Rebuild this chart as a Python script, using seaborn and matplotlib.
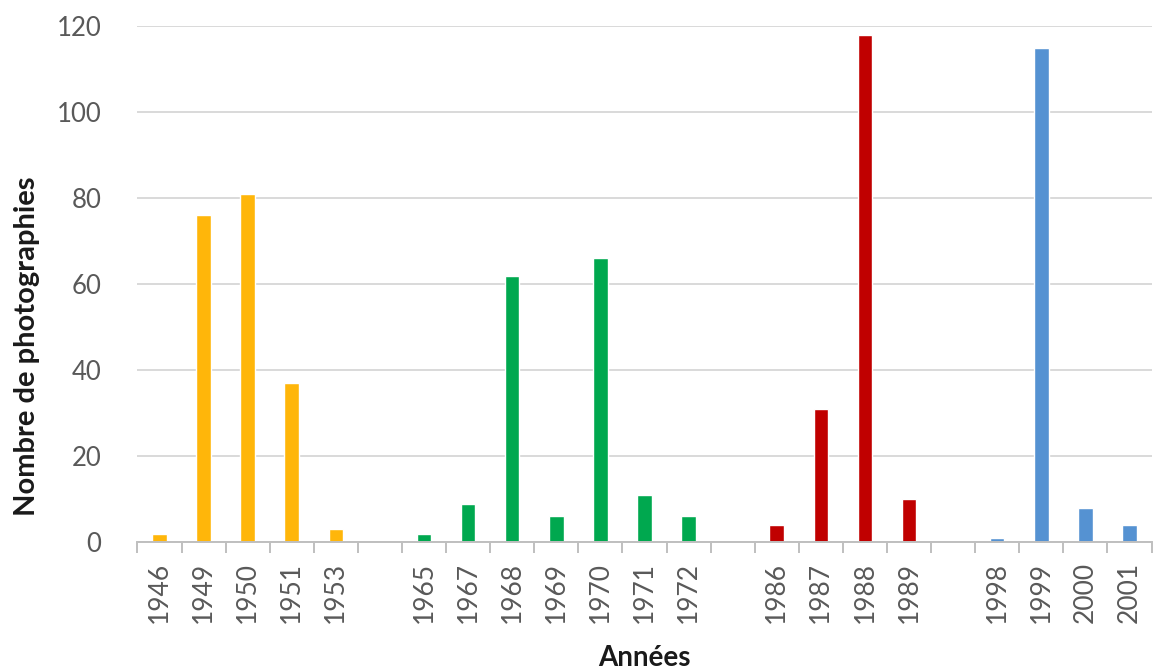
import matplotlib
matplotlib.use("Agg")
import matplotlib.pyplot as plt
import numpy as np
import pandas as pd
import seaborn as sns

# Data
years_1950s = ["1946", "1949", "1950", "1951", "1953"]
counts_1950s = [2, 76, 81, 37, 3]
years_1970s = ["1965", "1967", "1968", "1969", "1970", "1971", "1972"]
counts_1970s = [2, 9, 62, 6, 66, 11, 6]
years_1980s = ["1986", "1987", "1988", "1989"]
counts_1980s = [4, 31, 118, 10]
years_2000s = ["1998", "1999", "2000", "2001"]
counts_2000s = [1, 115, 8, 4]

group_colors = {"g1": "#FFB60A", "g2": "#00A84F", "g3": "#C00000", "g4": "#5592D2"}

# Build long table
groups = [("g1", years_1950s, counts_1950s), ("g2", years_1970s, counts_1970s),
          ("g3", years_1980s, counts_1980s), ("g4", years_2000s, counts_2000s)]
rows = []
order = []
for i, (g, yrs, vals) in enumerate(groups):
    for y, v in zip(yrs, vals):
        rows.append({"Année": y, "Photos": v, "Groupe": g})
    order.extend(yrs)
    if i < len(groups) - 1:
        order.append(" " * (i + 1))  # empty slot between periods
df = pd.DataFrame(rows)

sns.set_style("white")
plt.rcParams["font.family"] = ["Lato", "DejaVu Sans"]

fig = plt.figure(figsize=(11.55, 6.72), dpi=100)
ax = fig.add_axes([0.119, 0.193, 0.878, 0.768])

sns.barplot(data=df, x="Année", y="Photos", hue="Groupe", order=order,
            palette=group_colors, saturation=1, dodge=False, width=0.33,
            legend=False, ax=ax)

ax.set_ylim(0, 120)
ax.set_xlim(-0.5, len(order) - 0.5)
ax.set_yticks(np.arange(0, 121, 20))
ax.yaxis.grid(True, color="#D9D9D9", linewidth=1.4)
ax.set_axisbelow(True)

for side in ["left", "top", "right"]:
    ax.spines[side].set_visible(False)
ax.spines["bottom"].set_color("#BFBFBF")
ax.spines["bottom"].set_linewidth(1.4)

# tick marks between categories, Excel style
ax.set_xticks(np.arange(-0.5, len(order), 1.0), minor=True)
ax.tick_params(axis="x", which="minor", length=8, width=1.4, color="#BFBFBF", bottom=True)
ax.tick_params(axis="x", which="major", length=0, pad=14, labelsize=19,
               labelcolor="#595959", rotation=90)
ax.tick_params(axis="y", length=0, pad=26, labelsize=18.5, labelcolor="#595959")

ax.set_xlabel("Années", fontsize=20, fontweight="bold", color="#1A1A1A", labelpad=16)
ax.set_ylabel("Nombre de photographies", fontsize=21, fontweight="bold", color="#1A1A1A")
ax.yaxis.set_label_coords(-0.096, 0.38)

fig.savefig("out.png", dpi=100)
